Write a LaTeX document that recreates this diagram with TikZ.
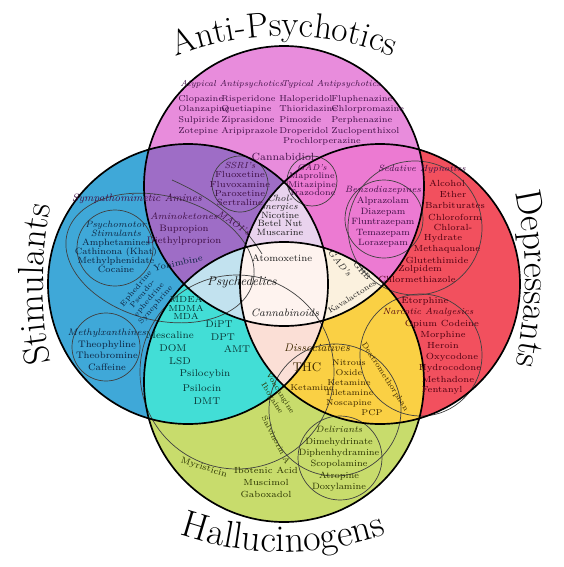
\documentclass[tikz,border=0pt]{standalone}
\usetikzlibrary{decorations.text}
\definecolor{apsy}{HTML}{E88CDC}
\definecolor{stim}{HTML}{3FA8D8}
\definecolor{depr}{HTML}{F2505E}
\definecolor{hall}{HTML}{C8DC6C}
\definecolor{tlc}{HTML}{9E6DC6}
\definecolor{trc}{HTML}{EC7AD2}
\definecolor{lbc}{HTML}{42DED6}
\definecolor{rbc}{HTML}{FAD044}
\definecolor{tlrc}{HTML}{E9D3EE}
\definecolor{tlbc}{HTML}{C2E2EF}
\definecolor{trbc}{HTML}{FBF1DE}
\definecolor{lrbc}{HTML}{FBDFD6}
\definecolor{allc}{HTML}{FEF3EF}
\definecolor{txtT}{HTML}{3F0F45}
\definecolor{txtL}{HTML}{0D2340}
\definecolor{txtR}{HTML}{4D0010}
\definecolor{txtC}{HTML}{0A3535}
\definecolor{txtY}{HTML}{3D2800}
\definecolor{txtB}{HTML}{2A3300}
\definecolor{txtM}{HTML}{1E1E1E}
\begin{document}
\begin{tikzpicture}[x=0.025cm, y=-0.025cm]
    \tikzstyle{drug} = [font=\fontsize{6.3}{7.2}\selectfont, align=center, inner sep=0pt]
    \tikzstyle{grp} = [font=\fontsize{6.4}{7.2}\selectfont\itshape, align=center, inner sep=0pt]
    \tikzstyle{ring} = [draw=black!75, line width=0.5pt]
    \tikzstyle{rim} = [draw=black, line width=1.2pt]
    \useasboundingbox (0,0) rectangle (564,567);
    \coordinate (cT) at (284,186);
    \coordinate (cL) at (188,284);
    \coordinate (cR) at (380,284);
    \coordinate (cB) at (284,382);
    % the four classes and their overlaps
    \foreach \a/\c in {cT/apsy, cL/stim, cR/depr, cB/hall}
      \fill[\c] (\a) circle[radius=140];
    \foreach \a/\b/\c in {cT/cL/tlc, cT/cR/trc, cL/cB/lbc, cR/cB/rbc}
    {
      \begin{scope}
        \clip (\a) circle[radius=140];
        \fill[\c] (\b) circle[radius=140];
      \end{scope}
    }
    \foreach \a/\b/\d/\c in {cT/cL/cR/tlrc, cT/cL/cB/tlbc, cT/cR/cB/trbc, cL/cR/cB/lrbc}
    {
      \begin{scope}
        \clip (\a) circle[radius=140];
        \clip (\b) circle[radius=140];
        \fill[\c] (\d) circle[radius=140];
      \end{scope}
    }
    \begin{scope}
      \clip (cT) circle[radius=140];
      \clip (cL) circle[radius=140];
      \clip (cR) circle[radius=140];
      \fill[allc] (cB) circle[radius=140];
    \end{scope}
    % sub groups
    \draw[ring, rotate around={-15:(160,258)}] (160,258) ellipse[x radius=96, y radius=62];
    \draw[ring] (115,248) circle[radius=38];
    \draw[ring] (106,347) circle[radius=34];
    \draw[ring] (240,184) circle[radius=28];
    \draw[ring] (172,180) .. controls (208,196) and (240,218) .. (262,254);
    \draw[ring] (312,181) circle[radius=25];
    \draw[ring] (384,219) circle[radius=39];
    \draw[ring] (415,228) circle[radius=67];
    \draw[ring] (421,355) circle[radius=61];
    \draw[ring] (335,410) circle[radius=66];
    \draw[ring] (237,372) circle[radius=97];
    \draw[ring] (340,458) circle[radius=42];
    \foreach \a in {cT, cL, cR, cB}
      \draw[rim] (\a) circle[radius=140];
    % titles
    \path[decorate, decoration={text along path, text align=center, text={|\fontsize{25}{25}\selectfont|Anti-Psychotics}}]
      ([shift={(284,330)}]243:294) arc[start angle=243, end angle=297, radius=294];
    \path[decorate, decoration={text along path, text align=center, text={|\fontsize{26}{26}\selectfont|Stimulants}}]
      ([shift={(443,284)}]162:400) arc[start angle=162, end angle=198, radius=400];
    \path[decorate, decoration={text along path, text align=center, text={|\fontsize{26}{26}\selectfont|Depressants}}]
      ([shift={(125,279)}]-18:400) arc[start angle=-18, end angle=18, radius=400];
    \path[decorate, decoration={text along path, text align=center, text={|\fontsize{27}{27}\selectfont|Hallucinogens}}]
      ([shift={(283,238)}]115:314) arc[start angle=115, end angle=65, radius=314];
    % anti-psychotics
    \node (atyp) [grp, text=txtT, font=\fontsize{6.1}{7}\selectfont\itshape] at (232,84) {Atypical Antipsychotics};
    \node (typ) [grp, text=txtT, font=\fontsize{6.1}{7}\selectfont\itshape] at (331,84) {Typical Antipsychotics};
    \node (col1) [drug, text=txtT, align=left, anchor=west, font=\fontsize{6.1}{7.6}\selectfont] at (178,115) {Clopazine\\Olanzapine\\Sulpiride\\Zotepine};
    \node (col2) [drug, text=txtT, align=left, anchor=west, font=\fontsize{6.1}{7.6}\selectfont] at (221,115) {Risperidone\\Quetiapine\\Ziprasidone\\Aripiprazole};
    \node (col3) [drug, text=txtT, align=left, anchor=west, font=\fontsize{6.1}{7.6}\selectfont] at (279,115) {Haloperidol\\Thioridazine\\Pimozide\\Droperidol};
    \node (col4) [drug, text=txtT, align=left, anchor=west, font=\fontsize{6.1}{7.6}\selectfont] at (331,115) {Fluphenazine\\Chlorpromazine\\Perphenazine\\Zuclopenthixol};
    \node (prochl) [drug, text=txtT, font=\fontsize{6.1}{7.6}\selectfont] at (322,141) {Prochlorperazine};
    \node (cbd) [drug, text=txtT, font=\fontsize{7.4}{8}\selectfont] at (283,157) {Cannabidiol};
    % anti-psychotics and stimulants
    \node (ssri) [drug, text=txtT, font=\fontsize{6.3}{6.5}\selectfont] at (240,184) {\textit{SSRI's}\\Fluoxetine\\Fluvoxamine\\Paroxetine\\Sertraline};
    \node (amino) [drug, text=txtT, font=\fontsize{6.7}{8.6}\selectfont] at (184,229) {\textit{Aminoketones}\\Bupropion\\Diethylproprion};
    \node (maoi) [grp, text=txtT, rotate=-32] at (234,223) {MAOI's};
    \node (symp) [grp, text=txtT, font=\fontsize{7.6}{7.6}\selectfont\itshape] at (137,199) {Sympathomimetic Amines};
    \node (yoh) [drug, text=txtL, rotate=12] at (178,263) {Yohimbine};
    % stimulants
    \node (psymo) [drug, text=txtL, font=\fontsize{6.5}{6.5}\selectfont] at (116,247) {\textit{Psychomotor}\\\textit{Stimulants}\\Amphetamines\\Cathinona (Khat)\\Methylphenidate\\Cocaine};
    \node (ephed) [drug, text=txtL, rotate=50, font=\fontsize{5.2}{6}\selectfont] at (146,297) {Ephedrine\\Pseudo-\\ephedrine\\Synephrine};
    \node (mxan) [drug, text=txtL, font=\fontsize{6.7}{8.2}\selectfont] at (107,350) {\textit{Methylxanthines}\\Theophyline\\Theobromine\\Caffeine};
    % cholinergics
    \node (chol) [drug, text=txtM, font=\fontsize{6.5}{6.1}\selectfont] at (280,215) {\textit{Chol-}\\\textit{mergics}\\Nicotine\\Betel Nut\\Muscarine};
    % anti-psychotics and depressants
    \node (gad) [drug, text=txtT, font=\fontsize{6}{5.9}\selectfont] at (312,180) {\textit{GAD's}\\Maproline\\Mitazipine\\Trazodone};
    \node (benzo) [drug, text=txtT, font=\fontsize{6.5}{7.5}\selectfont] at (383,217) {\textit{Benzodiazepines}\\Alprazolam\\Diazepam\\Fluntrazepam\\Temazepam\\Lorazepam};
    \node (sedhyp) [grp, text=txtT] at (422,169) {Sedative Hypnotics};
    % depressants
    \foreach \t/\x/\y [count=\i] in {Alcohol/447/183, Ether/453/194, Barbiturates/455/205, Chloroform/455/217, Chloral-/453/227, Hydrate/443/238, Methaqualone/447/249, Glutethimide/437/260, Zolpidem/420/269, Chlormethiazole/417/279}
      \node (hyp\i) [drug, text=txtR] at (\x,\y) {\t};
    \foreach \t/\x/\y [count=\i] in {Etorphine/425/301, Opium Codeine/442/324, Morphine/443/335, Heroin/443/346, Oxycodone/452/357, Hydrocodone/450/368, Methadone/448/379, Fentanyl/442/390}
      \node (narc\i) [drug, text=txtR] at (\x,\y) {\t};
    \node (narcan) [grp, text=txtR] at (428,312) {Narcotic Analgesics};
    % centre
    \node (atomox) [drug, text=txtM, font=\fontsize{6.8}{7}\selectfont] at (282,258) {Atomoxetine};
    \node (psyche) [grp, text=txtM, font=\fontsize{9}{9}\selectfont\itshape] at (242,282) {Psychedelics};
    \node (canna) [grp, text=txtM, font=\fontsize{7.6}{7.6}\selectfont\itshape] at (285,313) {Cannabinoids};
    \node (gad2) [grp, text=txtM, rotate=-50] at (340,263) {GAD's};
    \node (ghb) [drug, text=txtM, rotate=-48, font=\fontsize{5.3}{5.3}\selectfont] at (362,271) {GHB};
    \node (kava) [drug, text=txtM, rotate=32, font=\fontsize{5.6}{5.6}\selectfont] at (352,297) {Kavalactones};
    % stimulants and hallucinogens
    \node (mdma) [drug, text=txtC, font=\fontsize{6.3}{6}\selectfont] at (186,308) {MDEA\\MDMA\\MDA};
    \foreach \t/\x/\y [count=\i] in {DiPT/219/324, DPT/223/337, AMT/237/349, Mescaline/170/335, DOM/173/348, LSD/180/361, Psilocybin/205/374, Psilocin/202/388, DMT/207/401}
      \node (psy\i) [drug, text=txtC, font=\fontsize{7}{7}\selectfont] at (\x,\y) {\t};
    % depressants and hallucinogens
    \node (disso) [grp, text=txtY, font=\fontsize{7.8}{8}\selectfont\itshape] at (317,348) {Dissociatives};
    \node (thc) [drug, text=txtY, font=\fontsize{9}{9}\selectfont] at (307,367) {THC};
    \node (ket) [drug, text=txtY, font=\fontsize{6}{6}\selectfont] at (312,388) {Ketamine};
    \node (nitro) [drug, text=txtY, font=\fontsize{6}{7.1}\selectfont] at (349,383) {Nitrous\\Oxide\\Ketamine\\Tiletamine\\Noscapine};
    \node (pcp) [drug, text=txtY, font=\fontsize{6}{7.1}\selectfont] at (372,413) {PCP};
    \node (dxm) [drug, text=txtY, rotate=-57, font=\fontsize{5.6}{5.6}\selectfont] at (385,377) {Dextromethorphan};
    % hallucinogens
    \node (ibo) [drug, text=txtB, rotate=-58, font=\fontsize{5.5}{6.8}\selectfont] at (276,396) {Voacangine\\Ibogaine};
    \node (salv) [drug, text=txtB, rotate=-63, font=\fontsize{5.6}{5.8}\selectfont] at (276,440) {Salvinorin A};
    \node (myris) [drug, text=txtB, rotate=-18] at (204,468) {Myristicin};
    \node (ibot) [drug, text=txtB, font=\fontsize{6.3}{8.5}\selectfont] at (266,482) {Ibotenic Acid\\Muscimol\\Gaboxadol};
    \node (delir) [drug, text=txtB, font=\fontsize{6.5}{8.1}\selectfont] at (339,459) {\textit{Deliriants}\\Dimehydrinate\\Diphenhydramine\\Scopolamine\\Atropine\\Doxylamine};
\end{tikzpicture}
\end{document}
